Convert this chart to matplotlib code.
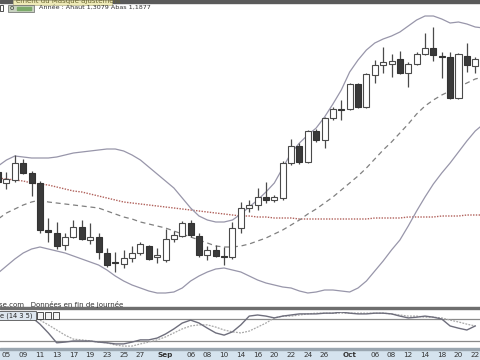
import matplotlib
matplotlib.use('Agg')
import matplotlib.pyplot as plt
from matplotlib.patches import Rectangle
import numpy as np

# daily candles (price), index 0 is the partly hidden first bar
opens = [1.128, 1.117, 1.120, 1.137, 1.127, 1.117, 1.070, 1.067, 1.055, 1.063,
         1.073, 1.060, 1.063, 1.047, 1.038, 1.036, 1.042, 1.047, 1.054, 1.043,
         1.040, 1.061, 1.064, 1.077, 1.064, 1.045, 1.050, 1.0435, 1.043, 1.072,
         1.092, 1.095, 1.103, 1.100, 1.102, 1.137, 1.154, 1.138, 1.169, 1.160,
         1.182, 1.191, 1.191, 1.216, 1.193, 1.225, 1.235, 1.236, 1.241, 1.227,
         1.236, 1.246, 1.252, 1.244, 1.243, 1.202, 1.244, 1.234]
highs = [1.132, 1.128, 1.145, 1.141, 1.129, 1.119, 1.082, 1.078, 1.067, 1.080,
         1.080, 1.077, 1.067, 1.052, 1.048, 1.050, 1.054, 1.058, 1.055, 1.052,
         1.071, 1.069, 1.079, 1.080, 1.067, 1.054, 1.055, 1.053, 1.078, 1.098,
         1.100, 1.112, 1.118, 1.105, 1.139, 1.161, 1.157, 1.170, 1.171, 1.183,
         1.193, 1.200, 1.217, 1.217, 1.227, 1.240, 1.253, 1.246, 1.249, 1.238,
         1.248, 1.267, 1.273, 1.248, 1.248, 1.247, 1.257, 1.243]
lows = [1.114, 1.111, 1.118, 1.126, 1.104, 1.067, 1.058, 1.051, 1.050, 1.062,
        1.060, 1.056, 1.041, 1.033, 1.028, 1.032, 1.038, 1.045, 1.040, 1.037,
        1.038, 1.058, 1.063, 1.063, 1.043, 1.040, 1.043, 1.035, 1.041, 1.067,
        1.088, 1.090, 1.097, 1.098, 1.100, 1.135, 1.136, 1.137, 1.158, 1.152,
        1.180, 1.180, 1.190, 1.192, 1.192, 1.217, 1.227, 1.223, 1.226, 1.213,
        1.235, 1.245, 1.239, 1.222, 1.201, 1.201, 1.228, 1.227]
closes = [1.118, 1.121, 1.137, 1.127, 1.117, 1.070, 1.068, 1.054, 1.063, 1.073,
          1.061, 1.063, 1.048, 1.035, 1.037, 1.042, 1.047, 1.056, 1.041, 1.045,
          1.061, 1.065, 1.077, 1.065, 1.045, 1.050, 1.044, 1.043, 1.072, 1.092,
          1.095, 1.103, 1.100, 1.103, 1.137, 1.154, 1.138, 1.169, 1.160, 1.182,
          1.191, 1.190, 1.216, 1.193, 1.226, 1.235, 1.238, 1.239, 1.227, 1.236,
          1.246, 1.252, 1.245, 1.243, 1.202, 1.246, 1.235, 1.241]

# Bollinger bands + long moving average (one more point than candles)
bb_upper = [1.134, 1.140, 1.144, 1.143, 1.142, 1.142, 1.142, 1.143, 1.145, 1.147,
            1.148, 1.149, 1.150, 1.151, 1.151, 1.149, 1.145, 1.140, 1.133, 1.126,
            1.119, 1.112, 1.102, 1.092, 1.084, 1.080, 1.078, 1.078, 1.080, 1.086,
            1.093, 1.100, 1.108, 1.117, 1.132, 1.147, 1.157, 1.165, 1.172, 1.183,
            1.196, 1.210, 1.228, 1.240, 1.250, 1.257, 1.261, 1.264, 1.268, 1.274,
            1.280, 1.284, 1.284, 1.281, 1.277, 1.278, 1.276, 1.273, 1.272]
bb_mid = [1.081, 1.087, 1.091, 1.095, 1.098, 1.100, 1.098, 1.097, 1.096, 1.095,
          1.094, 1.093, 1.092, 1.089, 1.086, 1.083, 1.081, 1.078, 1.076, 1.074,
          1.072, 1.069, 1.066, 1.063, 1.060, 1.057, 1.054, 1.053, 1.053, 1.054,
          1.056, 1.059, 1.062, 1.066, 1.070, 1.075, 1.080, 1.086, 1.091, 1.097,
          1.103, 1.110, 1.117, 1.124, 1.132, 1.141, 1.150, 1.158, 1.167, 1.176,
          1.186, 1.194, 1.200, 1.205, 1.209, 1.213, 1.217, 1.221, 1.223]
bb_lower = [1.027, 1.034, 1.041, 1.047, 1.051, 1.053, 1.051, 1.049, 1.047, 1.044,
            1.041, 1.038, 1.035, 1.030, 1.024, 1.019, 1.015, 1.012, 1.009, 1.007,
            1.007, 1.008, 1.012, 1.019, 1.024, 1.028, 1.031, 1.032, 1.030, 1.028,
            1.024, 1.020, 1.017, 1.015, 1.013, 1.012, 1.009, 1.007, 1.008, 1.010,
            1.010, 1.009, 1.008, 1.012, 1.019, 1.029, 1.039, 1.050, 1.060, 1.074,
            1.089, 1.103, 1.116, 1.127, 1.137, 1.148, 1.159, 1.169, 1.176]
ma_long = [1.122, 1.121, 1.120, 1.119, 1.117, 1.116, 1.115, 1.113, 1.111, 1.109,
           1.108, 1.106, 1.104, 1.102, 1.100, 1.098, 1.097, 1.096, 1.095, 1.094,
           1.093, 1.092, 1.091, 1.090, 1.089, 1.088, 1.087, 1.086, 1.085, 1.084,
           1.084, 1.083, 1.083, 1.082, 1.082, 1.082, 1.081, 1.081, 1.081, 1.081,
           1.081, 1.081, 1.081, 1.081, 1.081, 1.082, 1.082, 1.082, 1.082, 1.083,
           1.083, 1.083, 1.083, 1.084, 1.084, 1.084, 1.085, 1.085, 1.085]

# stochastic (14 3 5)
stoch_k_start = 4
stoch_k = [85, 66, 42, 15, 17, 20, 20, 20, 17, 15, 12, 12, 17, 23, 23, 28, 39, 53,
           69, 77, 69, 55, 42, 36, 45, 64, 88, 91, 88, 83, 88, 91, 94, 94, 94, 96,
           96, 99, 96, 94, 94, 96, 96, 94, 88, 83, 85, 88, 85, 80, 61, 55, 50, 61]
stoch_d_start = 5
stoch_d = [77, 64, 50, 36, 25, 23, 20, 17, 15, 9, 6, 6, 12, 17, 23, 31, 42, 53,
           61, 64, 64, 58, 50, 45, 42, 47, 58, 69, 83, 88, 88, 91, 94, 96, 96, 96,
           96, 96, 96, 96, 96, 96, 94, 91, 88, 88, 85, 85, 83, 77, 72, 66, 61]

date_idx = [1, 3, 5, 7, 9, 11, 13, 15, 17, 20, 23, 25, 27, 29, 31, 33, 35, 37,
            39, 42, 45, 47, 49, 51, 53, 55, 57]
date_labels = ['05', '09', '11', '13', '17', '19', '23', '25', '27', 'Sep',
               '06', '08', '10', '14', '16', '20', '22', '24', '26', 'Oct',
               '06', '08', '12', '14', '18', '20', '22']

W, H = 480, 360
XLIM = (0.227, 57.57)


def fy(py):
    # pixel row -> figure fraction
    return 1 - py / H


fig = plt.figure(figsize=(4.8, 3.6), dpi=100)
fig.patch.set_facecolor('white')

# ---- main price panel
ax = fig.add_axes([0, fy(308), 1, (308 - 3) / H])
ax.set_xlim(*XLIM)
ax.set_ylim(1.3 - 0.308, 1.3 - 0.003)
ax.set_axis_off()

xb = np.arange(len(bb_upper))
ax.plot(xb, ma_long, color='#b0605a', lw=1.0, ls=(0, (1, 1)))
ax.plot(xb, bb_upper, color='#9896aa', lw=0.9)
ax.plot(xb, bb_lower, color='#9896aa', lw=0.9)
ax.plot(xb, bb_mid, color='#808080', lw=0.9, ls=(0, (4, 3)))

o = np.array(opens); c = np.array(closes)
hi = np.array(highs); lo = np.array(lows)
xc = np.arange(len(o))
up = c >= o
ax.vlines(xc, lo, hi, color='#4a4a4a', lw=0.9, zorder=3)
body = np.maximum(np.abs(c - o), 0.0012)
bottom = np.minimum(o, c)
ax.bar(xc[up], body[up], bottom=bottom[up], width=0.72, color='white',
       edgecolor='#4a4a4a', linewidth=0.8, zorder=4)
ax.bar(xc[~up], body[~up], bottom=bottom[~up], width=0.72, color='#3a3a3a',
       edgecolor='#333333', linewidth=0.8, zorder=4)

# ---- stochastic panel
ax2 = fig.add_axes([0, fy(348.3), 1, 36.6 / H])
ax2.set_xlim(*XLIM)
ax2.set_ylim(0, 100)
ax2.set_axis_off()
ax2.axhline(80, color='#8a8a8a', lw=0.9)
ax2.axhline(20, color='#8a8a8a', lw=0.9)
ax2.plot(np.arange(stoch_d_start, stoch_d_start + len(stoch_d)), stoch_d,
         color='#a8a8a8', lw=0.9, ls=(0, (1.5, 1)))
ax2.plot(np.arange(stoch_k_start, stoch_k_start + len(stoch_k)), stoch_k,
         color='#6e6e7c', lw=1.0)

# ---- date band
ax3 = fig.add_axes([0, 0, 1, 11 / H])
ax3.set_xlim(*XLIM)
ax3.set_ylim(0, 1)
ax3.set_facecolor('#d5e3ee')
for s in ax3.spines.values():
    s.set_visible(False)
ax3.set_xticks([]); ax3.set_yticks([])
for i, lab in zip(date_idx, date_labels):
    bold = lab in ('Sep', 'Oct')
    ax3.text(i, 0.42, lab, ha='center', va='center', fontsize=5.2,
             color='#333333', fontweight='bold' if bold else 'normal')
fig.patches.append(Rectangle((0, fy(349.5)), 1, 1.2 / H, transform=fig.transFigure,
                             color='#9aa6b0', zorder=2))

# ---- header strip
fig.patches.append(Rectangle((0, fy(2.5)), 1, 2.5 / H, transform=fig.transFigure,
                             color='#5a5a5a', zorder=2))
fig.patches.append(Rectangle((13 / W, fy(4.5)), 99 / W, 4.5 / H,
                             transform=fig.transFigure, facecolor='#eeeab8',
                             edgecolor='#b8b48a', lw=0.5, zorder=3))
fig.text(16 / W, fy(1.5), 'ement du Masque ajustement', fontsize=5, color='#6a6530',
         va='center', zorder=4)
fig.patches.append(Rectangle((0, fy(11)), 3 / W, 6 / H, transform=fig.transFigure,
                             facecolor='white', edgecolor='#333333', lw=0.6, zorder=3))
fig.patches.append(Rectangle((8 / W, fy(11.5)), 26 / W, 6.5 / H,
                             transform=fig.transFigure, facecolor='#c8d2c0',
                             edgecolor='#666666', lw=0.5, zorder=3))
fig.text(10 / W, fy(8), 'o', fontsize=5, color='#333333', va='center', zorder=4)
fig.patches.append(Rectangle((17 / W, fy(10)), 14 / W, 3.5 / H,
                             transform=fig.transFigure, color='#7caa6a', zorder=4))
fig.text(39 / W, fy(7.5), 'Année : Ahaut 1,3079 Abas 1,1877', fontsize=4.6,
         color='#333333', va='center', zorder=4)

# ---- source line, separator and indicator title box
fig.text(-1 / W, fy(304), 'se.com   Données en fin de journée', fontsize=5,
         color='#333333', va='center')
fig.patches.append(Rectangle((0, fy(309)), 1, 1.6 / H, transform=fig.transFigure,
                             color='#6e6e6e', zorder=2))
fig.patches.append(Rectangle((-1 / W, fy(320)), 37 / W, 9 / H,
                             transform=fig.transFigure, facecolor='#dde6ee',
                             edgecolor='#555555', lw=0.6, zorder=3))
fig.text(0, fy(315.5), 'e (14 3 5)', fontsize=4.8, color='#222222', va='center',
         zorder=4)
for k, x0 in enumerate([37, 45, 53]):
    fig.patches.append(Rectangle((x0 / W, fy(319)), 6 / W, 7 / H,
                                 transform=fig.transFigure, facecolor='#f4f4f4',
                                 edgecolor='#333333', lw=0.6, zorder=4))

fig.savefig('out.png', dpi=100)
